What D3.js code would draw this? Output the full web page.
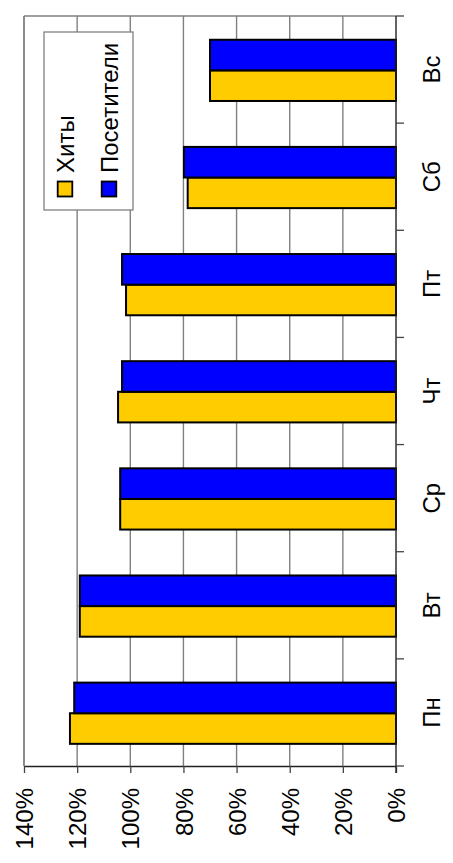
<!DOCTYPE html>
<html><head><meta charset="utf-8">
<script src="https://cdn.jsdelivr.net/npm/d3@7"></script>
<style>body{margin:0;background:#fff}svg{display:block}text{font-family:"Liberation Sans",Arial,sans-serif}</style>
</head><body>
<svg id="c" width="453" height="863"></svg>
<script>
const days = ["Пн","Вт","Ср","Чт","Пт","Сб","Вс"];
const series = ["Хиты","Посетители"];
const hits = [122.7,119,103.8,104.6,101.6,78.4,70];
const visitors = [121.1,119,103.8,103.1,103.1,79.8,70];
const valueTicks = [0,20,40,60,80,100,120,140];
const colors = {"Хиты":"#FFCC00","Посетители":"#0000FF"};

const svg = d3.select("#c");
const L=24, R=396, T=16, B=766;
const x = d3.scaleLinear().domain([0,140]).range([R,L]);
const y = d3.scaleBand().domain(days).range([B,T]);
const sub = d3.scaleBand().domain(["Посетители","Хиты"]).range([0,y.bandwidth()]).paddingInner(0).paddingOuter(0.75);

// plot area
svg.append("rect").attr("x",L).attr("y",T).attr("width",R-L).attr("height",B-T).attr("fill","#fff");
// grid
svg.append("g").selectAll("line").data(valueTicks.filter(d=>d>0)).join("line")
  .attr("x1",d=>x(d)).attr("x2",d=>x(d)).attr("y1",T).attr("y2",B)
  .attr("stroke","#808080").attr("stroke-width",1.4);
svg.append("line").attr("x1",L).attr("x2",R).attr("y1",T).attr("y2",T).attr("stroke","#808080").attr("stroke-width",1.4);

// bars
const data = days.map((d,i)=>({day:d, vals:[{s:"Хиты",v:hits[i]},{s:"Посетители",v:visitors[i]}]}));
const g = svg.append("g");
data.forEach(d=>{
  g.selectAll(null).data(d.vals).join("rect")
    .attr("x",v=>x(v.v)).attr("width",v=>x(0)-x(v.v))
    .attr("y",v=>y(d.day)+sub(v.s)+0.8).attr("height",sub.bandwidth())
    .attr("fill",v=>colors[v.s]).attr("stroke","#000").attr("stroke-width",2);
});

// value axis
const xa = svg.append("g").attr("transform",`translate(0,${B})`)
  .call(d3.axisBottom(x).tickValues(valueTicks).tickFormat(d=>d+"%").tickSize(7).tickSizeOuter(0));
xa.select(".domain").attr("stroke","#222").attr("stroke-width",1.3);
xa.selectAll(".tick line").attr("stroke","#444").attr("stroke-width",1.3);
xa.selectAll(".tick text").attr("x",0).attr("y",0).attr("dy","0.36em")
  .attr("transform","translate(0,22) rotate(-90)").attr("text-anchor","end")
  .attr("font-size",24).attr("fill","#000").attr("font-family","Liberation Sans, Arial, sans-serif");

// category axis
const ya = svg.append("g").attr("transform",`translate(${R},0)`)
  .call(d3.axisRight(y).tickSize(0).tickSizeOuter(0).tickFormat(""));
ya.select(".domain").remove();
ya.selectAll(".tick text").remove();
svg.append("line").attr("x1",R).attr("x2",R).attr("y1",T).attr("y2",B+7).attr("stroke","#222").attr("stroke-width",1.4);
const bounds = days.map(d=>y(d)+y.bandwidth()).concat([T]);
svg.append("g").selectAll("line").data(bounds).join("line")
  .attr("x1",R).attr("x2",R+8).attr("y1",d=>d).attr("y2",d=>d).attr("stroke","#444").attr("stroke-width",1.3);
svg.append("g").selectAll("text").data(days).join("text")
  .attr("transform",d=>`translate(431,${y(d)+y.bandwidth()/2}) rotate(-90)`)
  .attr("text-anchor","middle").attr("dy","0.36em").attr("font-size",24).text(d=>d);

// left border
svg.append("line").attr("x1",L).attr("x2",L).attr("y1",T).attr("y2",B).attr("stroke","#808080").attr("stroke-width",1.4);

// legend
const lg = svg.append("g");
lg.append("rect").attr("x",44).attr("y",32).attr("width",89).attr("height",178)
  .attr("fill","#fff").attr("stroke","#808080").attr("stroke-width",1.3);
const legX = {"Хиты":65,"Посетители":109};
series.forEach(s=>{
  lg.append("rect").attr("x",legX[s]-7.3).attr("y",181.5).attr("width",14.6).attr("height",15)
    .attr("fill",colors[s]).attr("stroke","#000").attr("stroke-width",1.8);
  lg.append("text").attr("transform",`translate(${legX[s]},173) rotate(-90)`)
    .attr("dy","0.36em").attr("font-size",24).text(s);
});
</script>
</body></html>
